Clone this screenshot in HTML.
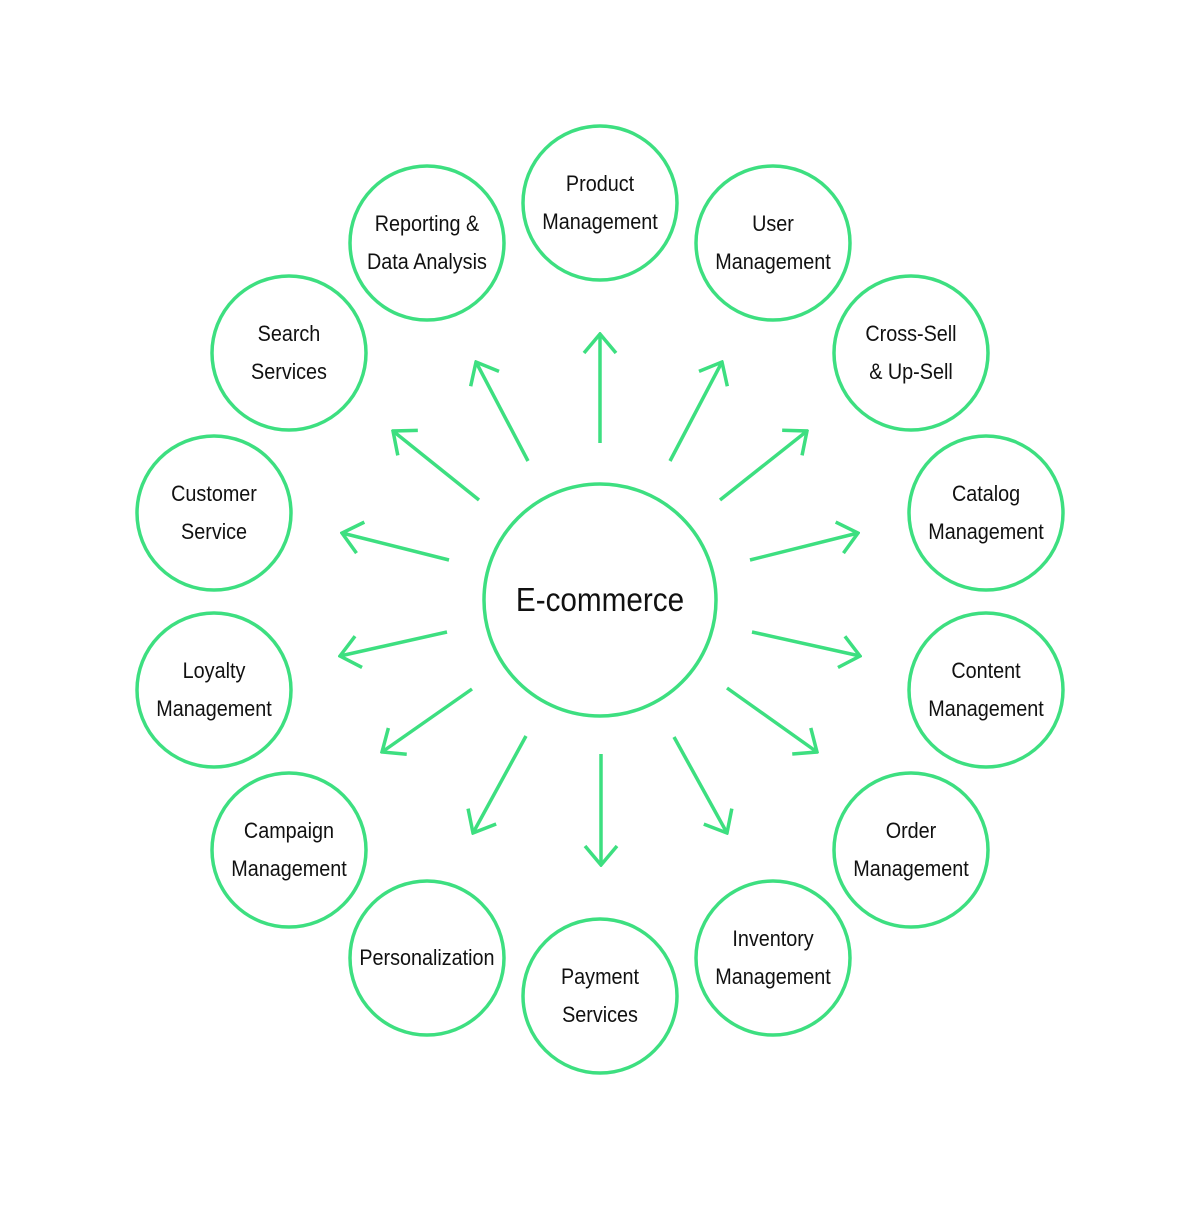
<!DOCTYPE html>
<html><head><meta charset="utf-8"><style>html,body{margin:0;padding:0;background:#fff}</style></head>
<body>
<svg width="1200" height="1200" viewBox="0 0 1200 1200" xmlns="http://www.w3.org/2000/svg">
<defs>
<marker id="a" viewBox="-30 -20 32 40" refX="0" refY="0" markerWidth="32" markerHeight="40" markerUnits="userSpaceOnUse" orient="auto">
<path d="M-19,-16 L0,0 L-19,16" fill="none" stroke="#3ddf80" stroke-width="3.5"/>
</marker>
</defs>
<g fill="none" stroke="#3ddf80" stroke-width="3.5">
<circle cx="600" cy="600" r="116"/>
<circle cx="600" cy="203" r="77"/>
<circle cx="773" cy="243" r="77"/>
<circle cx="911" cy="353" r="77"/>
<circle cx="986" cy="513" r="77"/>
<circle cx="986" cy="690" r="77"/>
<circle cx="911" cy="850" r="77"/>
<circle cx="773" cy="958" r="77"/>
<circle cx="600" cy="996" r="77"/>
<circle cx="427" cy="958" r="77"/>
<circle cx="289" cy="850" r="77"/>
<circle cx="214" cy="690" r="77"/>
<circle cx="214" cy="513" r="77"/>
<circle cx="289" cy="353" r="77"/>
<circle cx="427" cy="243" r="77"/>
<g marker-end="url(#a)">
<line x1="600" y1="443" x2="600" y2="334"/>
<line x1="670" y1="461" x2="722" y2="362"/>
<line x1="720" y1="500" x2="807" y2="431"/>
<line x1="750" y1="560" x2="858" y2="533"/>
<line x1="752" y1="632" x2="860" y2="656"/>
<line x1="727" y1="688" x2="817" y2="752"/>
<line x1="674" y1="737" x2="727" y2="833"/>
<line x1="601" y1="754" x2="601" y2="865"/>
<line x1="526" y1="736" x2="473" y2="833"/>
<line x1="472" y1="689" x2="382" y2="752"/>
<line x1="447" y1="632" x2="340" y2="656"/>
<line x1="449" y1="560" x2="342" y2="533"/>
<line x1="479" y1="500" x2="393" y2="431"/>
<line x1="528" y1="461" x2="476" y2="362"/>
</g>
</g>
<g transform="scale(0.9,1)" font-family="'Liberation Sans',sans-serif" font-size="22" fill="#111" text-anchor="middle">
<text x="666.7" y="611" font-size="33">E-commerce</text>
<text x="666.7" y="191">Product</text><text x="666.7" y="229">Management</text>
<text x="858.9" y="231">User</text><text x="858.9" y="269">Management</text>
<text x="1012.2" y="341">Cross-Sell</text><text x="1012.2" y="379">&amp; Up-Sell</text>
<text x="1095.6" y="501">Catalog</text><text x="1095.6" y="539">Management</text>
<text x="1095.6" y="678">Content</text><text x="1095.6" y="716">Management</text>
<text x="1012.2" y="838">Order</text><text x="1012.2" y="876">Management</text>
<text x="858.9" y="946">Inventory</text><text x="858.9" y="984">Management</text>
<text x="666.7" y="984">Payment</text><text x="666.7" y="1022">Services</text>
<text x="474.4" y="965">Personalization</text>
<text x="321.1" y="838">Campaign</text><text x="321.1" y="876">Management</text>
<text x="237.8" y="678">Loyalty</text><text x="237.8" y="716">Management</text>
<text x="237.8" y="501">Customer</text><text x="237.8" y="539">Service</text>
<text x="321.1" y="341">Search</text><text x="321.1" y="379">Services</text>
<text x="474.4" y="231">Reporting &amp;</text><text x="474.4" y="269">Data Analysis</text>
</g>
</svg>
</body></html>
